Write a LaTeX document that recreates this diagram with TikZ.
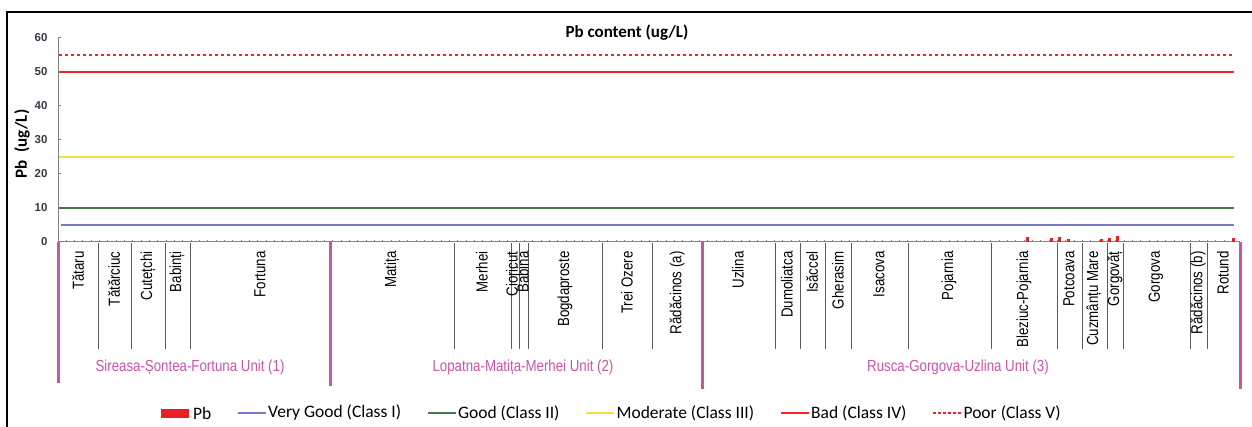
\documentclass[tikz,border=0pt]{standalone}
\usepackage{fontspec}
\setmainfont{Liberation Sans}
\newfontfamily\carlito{Carlito}
\newfontfamily\narrowsans[FakeStretch=0.83]{Liberation Sans}
\usetikzlibrary{positioning}
\definecolor{unitpink}{RGB}{200,85,165}
\definecolor{classone}{RGB}{120,120,205}
\definecolor{classtwo}{RGB}{70,120,75}
\definecolor{classthree}{RGB}{245,225,60}
\definecolor{classfour}{RGB}{245,35,35}
\definecolor{pbred}{RGB}{235,30,35}
\definecolor{axisgray}{RGB}{130,130,130}
\definecolor{sepgray}{RGB}{90,90,90}
\definecolor{ticktext}{RGB}{60,55,70}
\tikzset{
  site/.style={rotate=90,anchor=east,inner sep=0pt,font=\narrowsans\fontsize{16}{18}\selectfont},
  unit/.style={inner sep=0pt,text=unitpink,font=\narrowsans\fontsize{16}{18}\selectfont},
  unitline/.style={unitpink,line width=3pt},
  sepline/.style={sepgray,line width=1pt},
  limit/.style={line width=1.3pt},
  keyline/.style={line width=1.6pt},
  ticklabel/.style={anchor=east,inner sep=0pt,text=ticktext,font=\bfseries\fontsize{11.5}{13}\selectfont},
  legendtext/.style={inner sep=0pt,font=\carlito\fontsize{17.5}{20}\selectfont},
  titletext/.style={inner sep=0pt,font=\carlito\bfseries\fontsize{17}{20}\selectfont}
}
\begin{document}
\begin{tikzpicture}[x=1pt,y=-1pt,line width=1pt]
\useasboundingbox (0,0) rectangle (1252,427);
\draw[line width=2.2pt] (7,427) -- (7,12) -- (1252,12);
\node[titletext] (title) at (627,33) {Pb content (ug/L)};
\node[titletext,rotate=90] (ytitle) at (22,144) {Pb\ \ (ug/L)};

\draw[axisgray] (58,38) -- (58,242) -- (1240,242);
\foreach \v in {0,10,...,60} {
  \draw[axisgray] (58,{242-3.4*\v}) -- ++(3,0);
  \node[ticklabel] (y\v) at (48,{242-3.4*\v}) {\v};
}
\foreach \i in {1,...,141}
  \draw[axisgray] ({58+\i*8.33},242) -- ++(0,-2);

\draw[draw=classone,line width=2pt] (61,225) -- (1234,225);
\draw[draw=classtwo,limit] (59,208) -- (1234,208);
\draw[draw=classthree,limit] (59,157) -- (1234,157);
\draw[draw=classfour,limit] (59,72) -- (1234,72);
\draw[draw=classfour,limit,dash pattern=on 3pt off 3pt] (59,55) -- (1234,55);

\foreach \x/\h in {1027/5,1051/3.5,1059/5,1068/3,1101/3,1109/3.5,1117/6,1233/4}
  \fill[pbred] ({\x-1.5},242) rectangle ++(3,-\h);

\foreach \x in {98,131,165,190,454,511,519,528,602,652,775,800,825,851,908,991,1057,1082,1107,1123,1190,1207}
  \draw[sepline] (\x,243) -- (\x,349);
\foreach \x/\y in {58/383,330/386,702/389,1240/389}
  \draw[unitline] (\x,242) -- (\x,\y);

\foreach \x/\t [count=\n] in {78/Tătaru,114/Tătărciuc,148/Cutețchi,177/Babinți,260/Fortuna,
    392/Matița,482/Merhei,512/Cioricut,523/Babina,565/Bogdaproste,627/Trei Ozere,677/Rădăcinos (a),
    738/Uzlina,787/Dumoliatca,812/Isăccel,838/Gherasim,879/Isacova,949/Pojarnia,1024/Bleziuc-Pojarnia,
    1069/Potcoava,1094/Cuzmânțu Mare,1115/Gorgovăț,1156/Gorgova,1198/Rădăcinos (b),1223/Rotund}
  \node[site] (s\n) at (\x,251) {\t};

\node[unit] (u1) at (190,367) {Sireasa-Șontea-Fortuna Unit (1)};
\node[unit] (u2) at (523,367) {Lopatna-Matița-Merhei Unit (2)};
\node[unit] (u3) at (958,367) {Rusca-Gorgova-Uzlina Unit (3)};

\node[fill=pbred,inner sep=0pt,minimum width=28pt,minimum height=9pt] (pbkey) at (175,413) {};
\node[legendtext,right=3pt of pbkey] (pb) {Pb};
\coordinate[right=26pt of pb.east] (vg1);
\coordinate[right=28pt of vg1] (vg2);
\draw[draw=classone,keyline] (vg1) -- (vg2);
\node[legendtext,right=2pt of vg2] (vg) {Very Good (Class I)};
\coordinate[right=26pt of vg.east] (gd1);
\coordinate[right=28pt of gd1] (gd2);
\draw[draw=classtwo,keyline] (gd1) -- (gd2);
\node[legendtext,right=2pt of gd2] (gd) {Good (Class II)};
\coordinate[right=26pt of gd.east] (md1);
\coordinate[right=28pt of md1] (md2);
\draw[draw=classthree,keyline] (md1) -- (md2);
\node[legendtext,right=2pt of md2] (md) {Moderate (Class III)};
\coordinate[right=26pt of md.east] (bd1);
\coordinate[right=28pt of bd1] (bd2);
\draw[draw=classfour,keyline] (bd1) -- (bd2);
\node[legendtext,right=2pt of bd2] (bd) {Bad (Class IV)};
\coordinate[right=26pt of bd.east] (pr1);
\coordinate[right=28pt of pr1] (pr2);
\draw[draw=classfour,keyline,dash pattern=on 3pt off 2pt] (pr1) -- (pr2);
\node[legendtext,right=2pt of pr2] (pr) {Poor (Class V)};
\end{tikzpicture}
\end{document}
